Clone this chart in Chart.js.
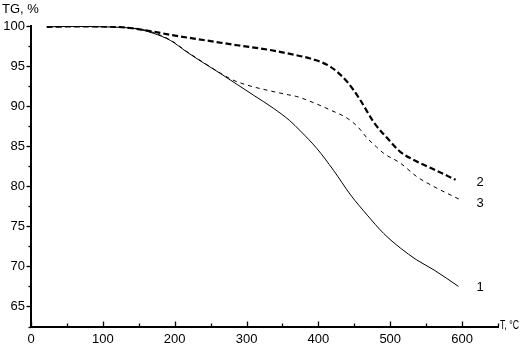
<!DOCTYPE html>
<html>
<head>
<meta charset="utf-8">
<script src="https://cdn.jsdelivr.net/npm/chart.js@4/dist/chart.umd.min.js"></script>
<style>
html,body{margin:0;padding:0;background:#fff;}
canvas{display:block;}
</style>
</head>
<body>
<canvas id="c" width="520" height="352"></canvas>
<script>
// ---- data ----
const temps1  = [22, 60, 100, 130, 150, 170, 194, 217, 240, 264, 287, 310, 338, 360, 375, 398, 421, 445, 468, 491, 514, 537, 561, 595];
const tg1     = [99.9, 99.95, 99.9, 99.8, 99.6, 99.1, 98.2, 96.75, 95.4, 94.05, 92.7, 91.35, 89.7, 88.2, 86.9, 84.7, 82.0, 78.9, 76.4, 74.1, 72.3, 70.8, 69.55, 67.5];

const temps2  = [22, 60, 100, 138, 170, 194, 240, 287, 333, 356, 394, 417, 440, 458, 477, 500, 514, 537, 561, 591];
const tg2     = [99.9, 99.95, 99.95, 99.75, 99.3, 98.9, 98.25, 97.6, 97.0, 96.6, 95.8, 94.9, 93.05, 90.8, 88.0, 85.6, 84.3, 83.1, 82.1, 80.8];

const temps3  = [22, 60, 100, 130, 150, 170, 194, 217, 240, 264, 280, 300, 333, 359, 370, 394, 417, 440, 455, 468, 481, 491, 514, 537, 561, 598];
const tg3     = [99.9, 99.95, 99.9, 99.8, 99.65, 99.2, 98.25, 96.8, 95.45, 94.1, 93.3, 92.65, 91.9, 91.4, 91.2, 90.4, 89.5, 88.5, 87.4, 86.0, 84.9, 84.1, 82.9, 81.2, 79.95, 78.3];

const xTickLabels = [0, 100, 200, 300, 400, 500, 600];
const yTickLabels = [65, 70, 75, 80, 85, 90, 95, 100];

const curveNames = ['1', '2', '3'];
const curveLabelT = [620, 620, 620];
const curveLabelTG = [67.4, 80.5, 77.9];

const xTitle = 'T, °C';
const yTitle = 'TG, %';

// ---- build ----
const toXY = (xs, ys) => xs.map((x, i) => ({x: x, y: ys[i]}));
const tickFont = {family: "'Liberation Sans Narrow', 'Arial Narrow', 'Liberation Sans', Arial, sans-serif", size: 13};
const labelFont = "13px 'Liberation Sans', Arial, sans-serif";

const extras = {
  id: 'extras',
  afterDraw(chart) {
    const ctx = chart.ctx;
    const xs = chart.scales.x, ys = chart.scales.y;
    const a = chart.chartArea;
    ctx.save();
    ctx.strokeStyle = '#000';
    ctx.lineWidth = 1.3;
    // x ticks (inward)
    for (let v = 0; v <= 650; v += 50) {
      const px = Math.round(xs.getPixelForValue(v)) + 0.5;
      const len = (v % 100 === 0) ? 5 : 3;
      ctx.beginPath();
      ctx.moveTo(px, a.bottom);
      ctx.lineTo(px, a.bottom - len);
      ctx.stroke();
    }
    // y ticks (outward)
    for (let v = 62.5; v <= 100; v += 2.5) {
      const py = Math.round(ys.getPixelForValue(v)) + 0.5;
      const len = (v % 5 === 0) ? 4.5 : 2.5;
      ctx.beginPath();
      ctx.moveTo(a.left - len, py);
      ctx.lineTo(a.left, py);
      ctx.stroke();
    }
    ctx.fillStyle = '#000';
    ctx.font = labelFont;
    ctx.textBaseline = 'middle';
    ctx.textAlign = 'left';
    // curve labels
    for (let i = 0; i < curveNames.length; i++) {
      ctx.fillText(curveNames[i], xs.getPixelForValue(curveLabelT[i]), ys.getPixelForValue(curveLabelTG[i]));
    }
    // axis titles
    ctx.fillText(xTitle, a.right + 2, a.bottom - 1, 519 - (a.right + 2));
    ctx.fillText(yTitle, 2, 9);
    ctx.restore();
  }
};

new Chart(document.getElementById('c'), {
  type: 'line',
  data: {
    datasets: [
      {data: toXY(temps1, tg1), borderColor: '#000', borderWidth: 1, pointRadius: 0, fill: false, cubicInterpolationMode: 'monotone'},
      {data: toXY(temps2, tg2), borderColor: '#000', borderWidth: 2.2, borderDash: [6, 3], pointRadius: 0, fill: false, cubicInterpolationMode: 'monotone'},
      {data: toXY(temps3, tg3), borderColor: '#000', borderWidth: 1, borderDash: [4, 4], pointRadius: 0, fill: false, cubicInterpolationMode: 'monotone'}
    ]
  },
  options: {
    responsive: false,
    animation: false,
    layout: {padding: {top: 26, right: 22, left: 0, bottom: 0}},
    plugins: {legend: {display: false}, tooltip: {enabled: false}, title: {display: false}},
    scales: {
      x: {
        type: 'linear', min: 0, max: 650,
        afterBuildTicks: s => { s.ticks = xTickLabels.map(v => ({value: v})); },
        afterFit: s => { s.height = 25.5; },
        grid: {display: false, drawTicks: false},
        border: {display: true, color: '#000', width: 2},
        ticks: {color: '#000', font: tickFont, padding: 5, maxRotation: 0, autoSkip: false}
      },
      y: {
        type: 'linear', min: 62.5, max: 100,
        afterBuildTicks: s => { s.ticks = yTickLabels.map(v => ({value: v})); },
        afterFit: s => { s.width = 31; },
        grid: {display: false, drawTicks: false},
        border: {display: true, color: '#000', width: 2},
        ticks: {color: '#000', font: tickFont, padding: 6, autoSkip: false}
      }
    }
  },
  plugins: [extras]
});
</script>
</body>
</html>
